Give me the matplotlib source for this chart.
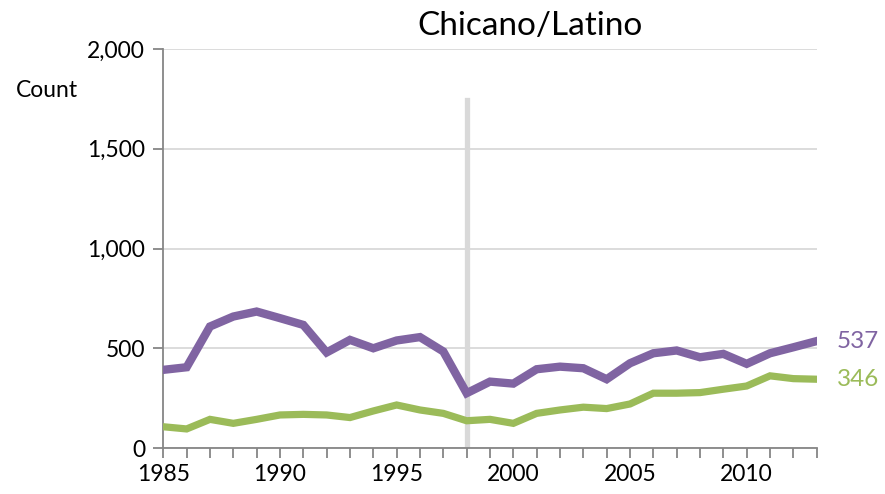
import matplotlib.pyplot as plt
import numpy as np

years = list(range(1985, 2014))
total = [393, 406, 610, 660, 685, 652, 618, 480, 543, 501, 540, 557, 485, 276, 334,
         324, 396, 409, 401, 346, 426, 476, 490, 456, 473, 423, 476, 506, 537]
admits = [108, 97, 145, 125, 145, 167, 170, 167, 154, 187, 217, 192, 175, 138, 145,
          125, 175, 192, 206, 199, 222, 276, 276, 279, 296, 312, 363, 349, 346]
marker_year = 1998
marker_top = 1745

purple = '#8064A2'
green = '#9BBB59'
grid_c = '#D9D9D9'
axis_c = '#868686'

plt.rcParams['font.family'] = ['Lato', 'DejaVu Sans']

fig = plt.figure(figsize=(8.85, 4.94), dpi=100)
ax = fig.add_axes([0.1845, 0.0925, 0.9228 - 0.1845, 0.9008 - 0.0925])

ax.plot([marker_year, marker_year], [0, marker_top], color=grid_c, lw=3.8, zorder=1)
ax.plot(years, total, color=purple, lw=6.0, solid_joinstyle='miter', zorder=3)
ax.plot(years, admits, color=green, lw=5.2, solid_joinstyle='miter', zorder=3)

ax.set_xlim(1985, 2013)
ax.set_ylim(0, 2000)
ax.set_yticks([0, 500, 1000, 1500, 2000])
ax.set_yticklabels(['0', '500', '1,000', '1,500', '2,000'])
ax.set_xticks(range(1985, 2014, 5))
ax.set_xticks(years, minor=True)
ax.yaxis.grid(True, color=grid_c, lw=1.3)
ax.set_axisbelow(True)

for s in ['top', 'right']:
    ax.spines[s].set_visible(False)
for s in ['left', 'bottom']:
    ax.spines[s].set_color(axis_c)
    ax.spines[s].set_linewidth(1.3)
ax.tick_params(axis='both', which='both', direction='out', length=7, width=1.3,
               color=axis_c, labelsize=16.5, labelcolor='black')
ax.tick_params(axis='y', pad=6)
ax.tick_params(axis='x', pad=4)

ax.text(years[-1] + 0.85, total[-1], str(total[-1]), color=purple, fontsize=17.5,
        va='center', ha='left', clip_on=False)
ax.text(years[-1] + 0.85, admits[-1], str(admits[-1]), color=green, fontsize=17.5,
        va='center', ha='left', clip_on=False)

fig.text(47 / 885, 1 - 90 / 494, 'Count', fontsize=16.5, ha='center', va='center')
fig.text(530 / 885, 1 - 26 / 494, 'Chicano/Latino', fontsize=24, ha='center', va='center')

fig.savefig('out.png', dpi=100)
